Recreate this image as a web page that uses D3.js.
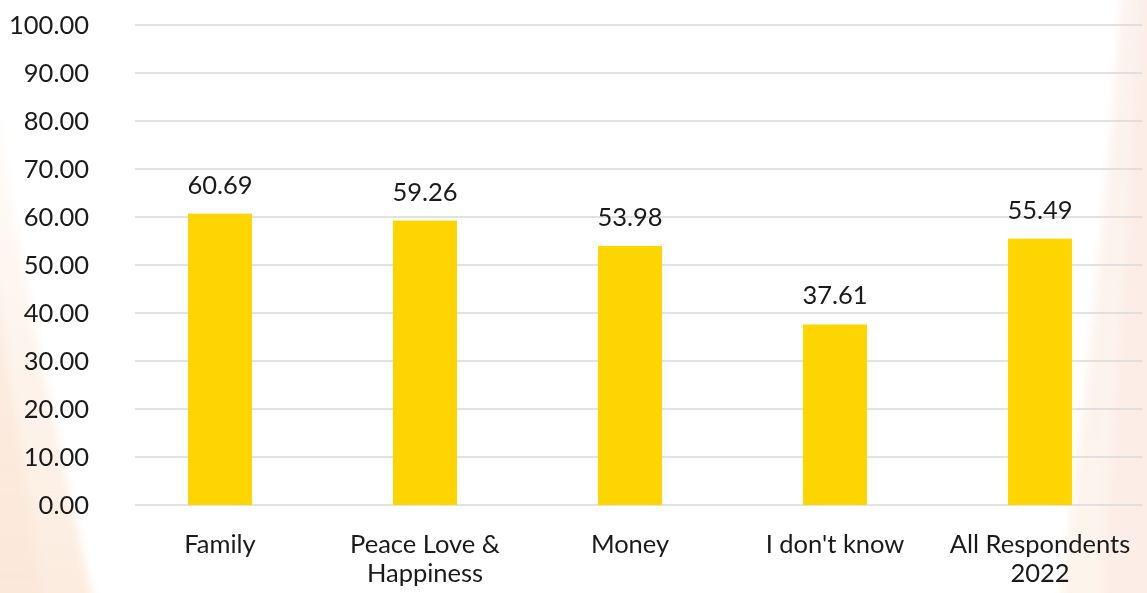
<!DOCTYPE html>
<html>
<head>
<meta charset="utf-8">
<script src="https://cdn.jsdelivr.net/npm/d3@7"></script>
<style>
  html, body { margin: 0; padding: 0; background: #fff; }
  svg { display: block; }
  text { font-family: Lato, "Open Sans", sans-serif; fill: #1a1a1a; }
</style>
</head>
<body>
<svg id="chart" width="1147" height="593"></svg>
<script>
// Chart data
const categories = ["Family", "Peace Love & Happiness", "Money", "I don't know", "All Respondents 2022"];
const categoryLines = [["Family"], ["Peace Love &", "Happiness"], ["Money"], ["I don't know"], ["All Respondents", "2022"]];
const values = [60.69, 59.26, 53.98, 37.61, 55.49];
const yTicks = [0, 10, 20, 30, 40, 50, 60, 70, 80, 90, 100];

const W = 1147, H = 593;
const svg = d3.select("#chart");

// Soft decorative swooshes at the page edges
const defs = svg.append("defs");
defs.append("filter").attr("id", "soft").attr("x", "-20%").attr("y", "-20%").attr("width", "140%").attr("height", "140%")
  .append("feGaussianBlur").attr("stdDeviation", 4);
const gl = defs.append("linearGradient").attr("id", "leftGlow").attr("x1", 0).attr("x2", 0).attr("y1", 0).attr("y2", 1);
gl.append("stop").attr("offset", "0%").attr("stop-color", "#fdf3ea").attr("stop-opacity", 0.3);
gl.append("stop").attr("offset", "100%").attr("stop-color", "#fce9da").attr("stop-opacity", 0.9);
const gr = defs.append("linearGradient").attr("id", "rightGlow").attr("x1", 0).attr("x2", 0).attr("y1", 0).attr("y2", 1);
gr.append("stop").attr("offset", "0%").attr("stop-color", "#fcefea").attr("stop-opacity", 0.8);
gr.append("stop").attr("offset", "100%").attr("stop-color", "#fdf1e8").attr("stop-opacity", 0.8);

const swoosh = svg.append("g").attr("filter", "url(#soft)");
swoosh.append("path")
  .attr("d", "M-10,60 C15,250 55,420 95,610 L-10,610 Z")
  .attr("fill", "url(#leftGlow)");
swoosh.append("path")
  .attr("d", "M-10,250 C10,380 30,500 45,610 L-10,610 Z")
  .attr("fill", "#fbe3d0").attr("opacity", 0.45);
swoosh.append("path")
  .attr("d", "M1122,-10 C1108,180 1088,380 1058,610 L1160,610 L1160,-10 Z")
  .attr("fill", "url(#rightGlow)");
swoosh.append("path")
  .attr("d", "M1140,-10 C1128,200 1115,400 1100,610 L1160,610 L1160,-10 Z")
  .attr("fill", "#fbe6dc").attr("opacity", 0.35);

// Scales
const y = d3.scaleLinear().domain([0, 100]).range([505, 25]);
const x = d3.scaleBand().domain(categories).range([117.5, 1142.5]).padding(0);
const barW = x.bandwidth() * 0.312;

// Gridlines
svg.append("g").selectAll("line").data(yTicks).join("line")
  .attr("x1", 135).attr("x2", 1142)
  .attr("y1", d => y(d)).attr("y2", d => y(d))
  .attr("stroke", "#d9d9d9").attr("stroke-width", 1.3);

// Y axis labels
svg.append("g").selectAll("text").data(yTicks).join("text")
  .attr("x", 89).attr("y", d => y(d)).attr("dy", "0.36em")
  .attr("text-anchor", "end").attr("font-size", 25.5)
  .text(d => d3.format(".2f")(d));

// Bars
svg.append("g").selectAll("rect").data(values).join("rect")
  .attr("x", (d, i) => x(categories[i]) + x.bandwidth() / 2 - barW / 2)
  .attr("width", barW)
  .attr("y", d => y(d))
  .attr("height", d => y(0) - y(d))
  .attr("fill", "#FFD500");

// Value labels
svg.append("g").selectAll("text").data(values).join("text")
  .attr("x", (d, i) => x(categories[i]) + x.bandwidth() / 2)
  .attr("y", d => y(d) - 20)
  .attr("text-anchor", "middle").attr("font-size", 25.5)
  .text(d => d3.format(".2f")(d));

// Category labels
const cat = svg.append("g").selectAll("text").data(categories).join("text")
  .attr("x", d => x(d) + x.bandwidth() / 2)
  .attr("y", 553)
  .attr("text-anchor", "middle").attr("font-size", 25.5);
cat.each(function(d, i) {
  const t = d3.select(this);
  const cx = x(d) + x.bandwidth() / 2;
  categoryLines[i].forEach((line, j) => {
    t.append("tspan").attr("x", cx).attr("dy", j === 0 ? 0 : 29).text(line);
  });
});
</script>
</body>
</html>
